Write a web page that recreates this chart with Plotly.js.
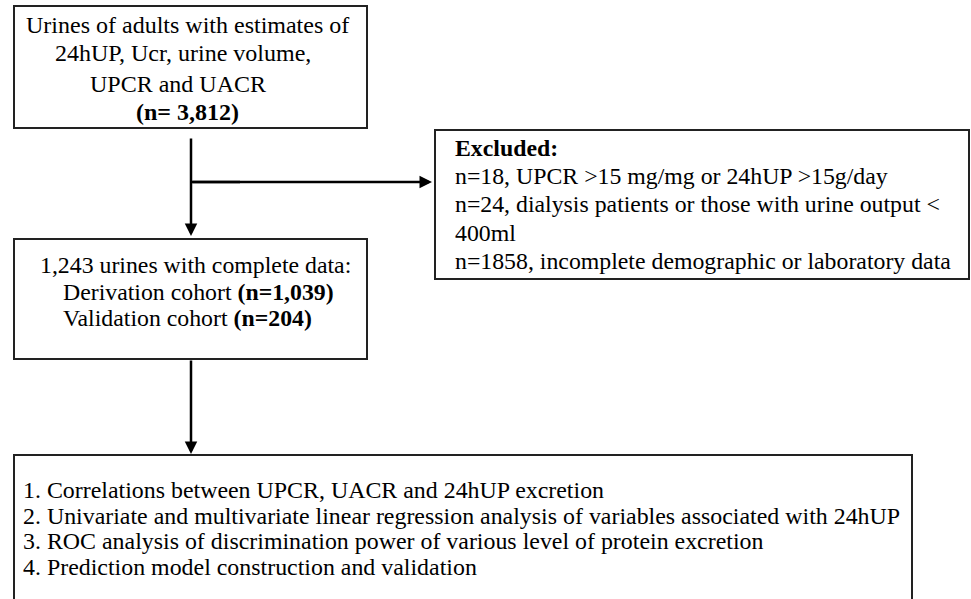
<!DOCTYPE html>
<html>
<head>
<meta charset="utf-8">
<script src="https://cdn.plot.ly/plotly-3.0.1.min.js"></script>
<style>html,body{margin:0;padding:0;background:#fff;}#chart{width:971px;height:599px;}</style>
</head>
<body>
<div id="chart"></div>
<script>
// Flowchart content
var box1Lines = ["Urines of adults with estimates of", "24hUP, Ucr, urine volume,", "UPCR and UACR", "<b>(n= 3,812)</b>"];
var box2Lines = ["1,243 urines with complete data:", "Derivation cohort <b>(n=1,039)</b>", "Validation cohort <b>(n=204)</b>"];
var excludedLines = ["<b>Excluded:</b>", "n=18, UPCR >15 mg/mg or 24hUP >15g/day", "n=24, dialysis patients or those with urine output <", "400ml", "n=1858, incomplete demographic or laboratory data"];
var analysisLines = ["1. Correlations between UPCR, UACR and 24hUP excretion", "2. Univariate and multivariate linear regression analysis of variables associated with 24hUP", "3. ROC analysis of discrimination power of various level of protein excretion", "4. Prediction model construction and validation"];

var FAMILY = "Liberation Serif";
var annotations = [];
var shapes = [];

function box(x0, y0, x1, y1) {
  shapes.push({type: "rect", xref: "x", yref: "y", x0: x0, y0: y0, x1: x1, y1: y1,
    line: {color: "#222", width: 2}, fillcolor: "rgba(0,0,0,0)"});
}
function txt(t, x, y, anchor, size) {
  annotations.push({text: t, x: x, y: y, xref: "x", yref: "y", xanchor: anchor, yanchor: "middle",
    showarrow: false, font: {family: FAMILY, size: size, color: "#000"}});
}
function arrow(x0, y0, x1, y1) {
  annotations.push({text: "", x: x1, y: y1, ax: x0, ay: y0, xref: "x", yref: "y", axref: "x", ayref: "y",
    showarrow: true, arrowhead: 2, arrowsize: 1, arrowwidth: 2.5, arrowcolor: "#000", standoff: 0, startstandoff: 0});
}

// boxes
box(14, 6, 367, 128);
box(14, 239, 367, 359);
box(435, 130, 969, 279);
box(14, 455, 912, 610);

// box 1 text (centred lines)
var b1x = [187, 183, 178, 187];
var b1y = [25, 53, 84, 112];
box1Lines.forEach(function (t, i) { txt(t, b1x[i], b1y[i], "center", 24); });

// box 2 text
var b2x = [38, 61, 61];
var b2y = [265, 292, 318];
box2Lines.forEach(function (t, i) { txt(t, b2x[i], b2y[i], "left", 23.8); });

// excluded text
excludedLines.forEach(function (t, i) { txt(t, 453, 148 + i * 28.2, "left", 23.8); });

// analysis text
analysisLines.forEach(function (t, i) { txt(t, 21, 490 + i * 25.5, "left", 23.9); });

// connectors
arrow(191, 137, 191, 236);
shapes.push({type: "line", xref: "x", yref: "y", x0: 191, y0: 182, x1: 240, y1: 182, line: {color: "#000", width: 2.5}});
arrow(191, 182, 432, 182);
arrow(191, 359, 191, 454);

var layout = {
  width: 971, height: 599,
  margin: {l: 0, r: 0, t: 0, b: 0},
  paper_bgcolor: "#fff", plot_bgcolor: "#fff",
  xaxis: {range: [0, 971], visible: false, fixedrange: true},
  yaxis: {range: [599, 0], visible: false, fixedrange: true},
  showlegend: false,
  shapes: shapes,
  annotations: annotations
};
Plotly.newPlot("chart", [], layout, {staticPlot: true, displayModeBar: false});
</script>
</body>
</html>
